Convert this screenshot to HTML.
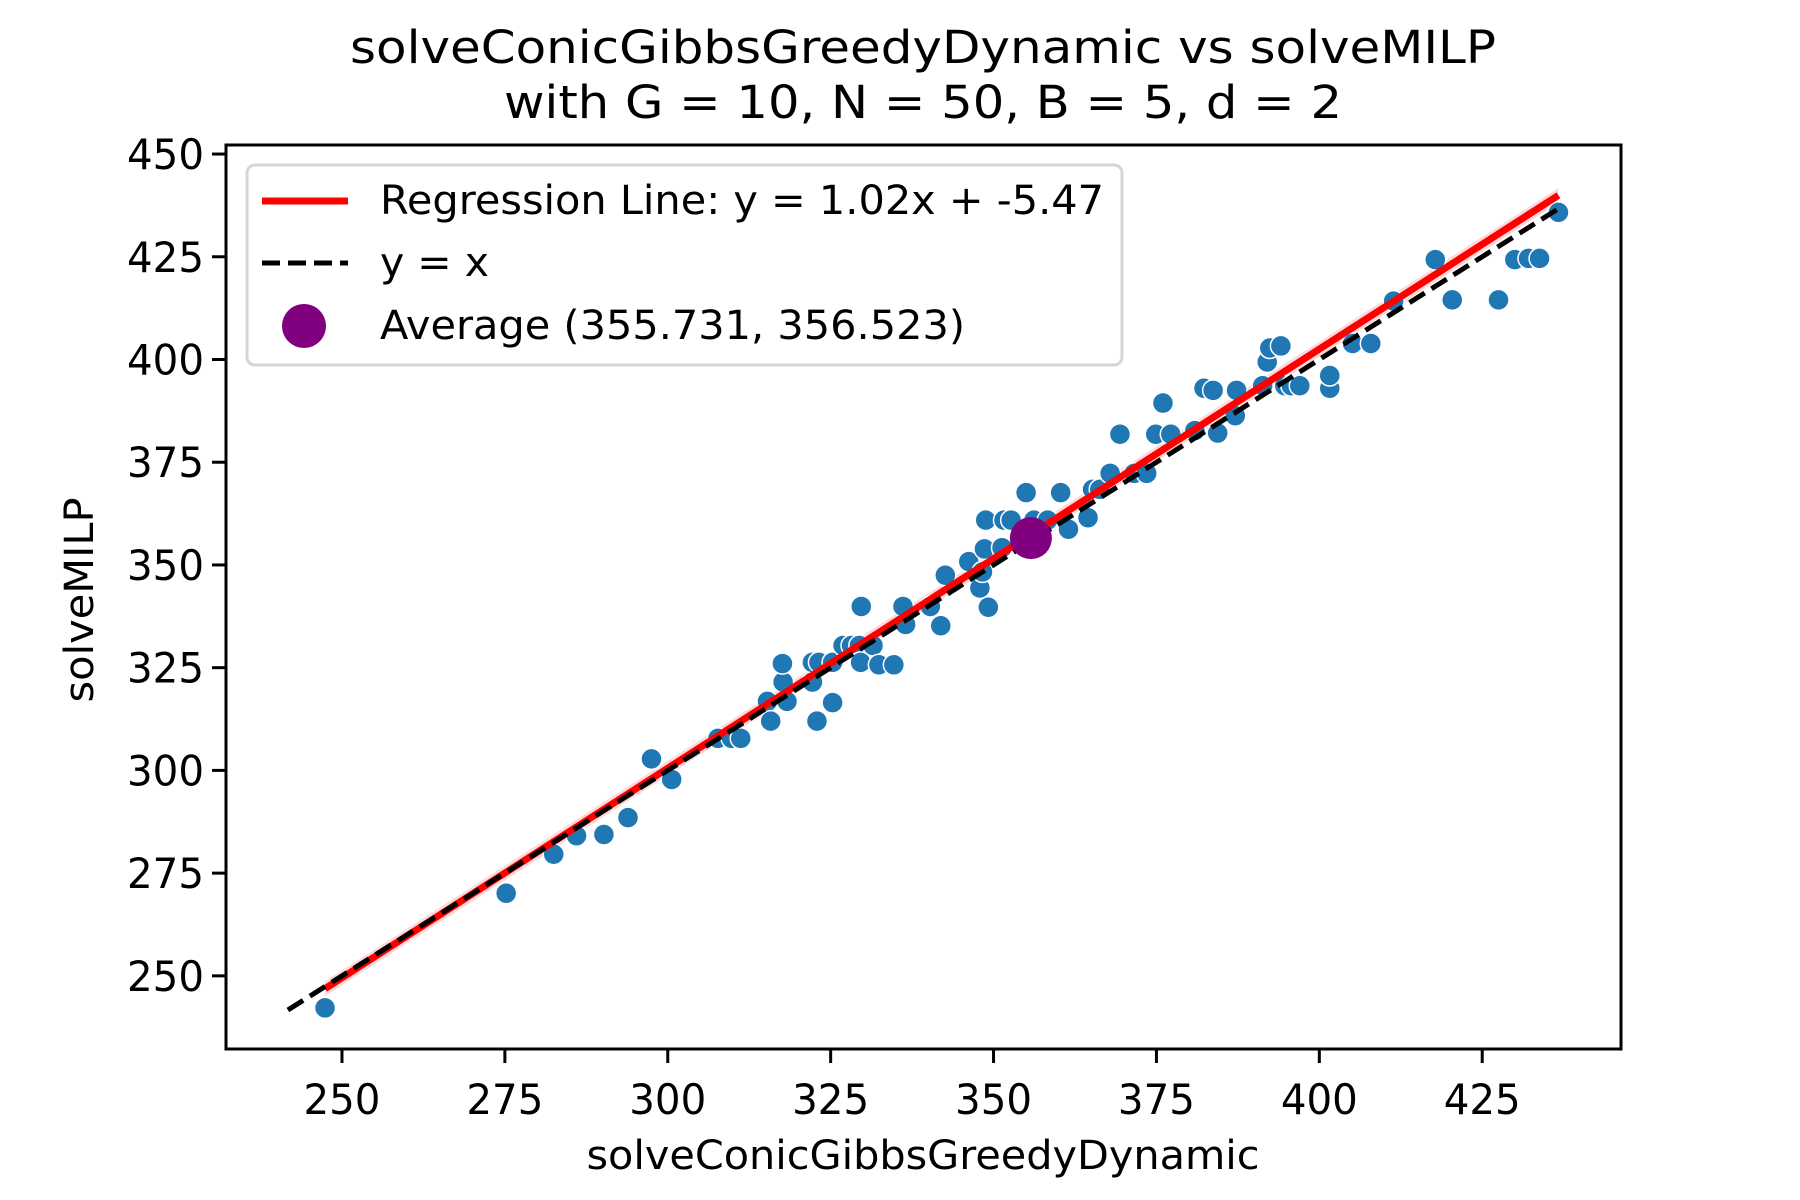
<!DOCTYPE html>
<html><head><meta charset="utf-8"><style>
html,body{margin:0;padding:0;background:#fff;}
svg{display:block;font-family:"DejaVu Sans","Liberation Sans",sans-serif;}
</style></head><body>
<svg id="chart" width="1800" height="1200" viewBox="0 0 1800 1200" xmlns="http://www.w3.org/2000/svg">
<rect width="1800" height="1200" fill="#fff"/>
<text x="923" y="63" font-size="45" text-anchor="middle" textLength="1146" lengthAdjust="spacingAndGlyphs">solveConicGibbsGreedyDynamic vs solveMILP</text>
<text x="923" y="118" font-size="45" text-anchor="middle" textLength="838" lengthAdjust="spacingAndGlyphs">with G = 10, N = 50, B = 5, d = 2</text>
<g id="plot"></g>
<text x="923" y="1169" font-size="40" text-anchor="middle" textLength="673" lengthAdjust="spacingAndGlyphs">solveConicGibbsGreedyDynamic</text>
<text x="0" y="0" font-size="40" text-anchor="middle" transform="translate(93,600) rotate(-90)" textLength="205" lengthAdjust="spacingAndGlyphs">solveMILP</text>
<g>
<rect x="247" y="165" width="875" height="200" rx="8" fill="#fff" fill-opacity="0.8" stroke="#d5d5d5" stroke-width="3"/>
<line x1="262" y1="201" x2="348" y2="201" stroke="#ff0000" stroke-width="7"/>
<text x="380" y="214" font-size="40" textLength="724" lengthAdjust="spacingAndGlyphs">Regression Line: y = 1.02x + -5.47</text>
<line x1="262" y1="263" x2="348" y2="263" stroke="#000" stroke-width="5" stroke-dasharray="18,8"/>
<text x="380" y="276" font-size="40" textLength="109" lengthAdjust="spacingAndGlyphs">y = x</text>
<circle cx="304" cy="326" r="22" fill="#800080"/>
<text x="380" y="339" font-size="40" textLength="585" lengthAdjust="spacingAndGlyphs">Average (355.731, 356.523)</text>
</g>
</svg>
<script>
const xVals=[247.4,275.2,282.5,286.0,290.2,293.9,297.5,300.6,307.7,309.8,311.2,315.3,315.8,317.7,317.6,318.3,322.2,322.2,322.9,323.2,325.3,325.3,326.9,328.2,329.4,329.6,329.7,331.5,332.4,334.7,336.1,336.5,340.3,341.9,342.6,346.2,347.9,348.3,348.6,348.8,349.2,351.3,351.6,352.7,355.0,356.2,356.7,358.3,360.3,361.5,364.5,365.2,366.3,367.9,369.4,371.6,373.5,374.9,376.0,377.2,380.9,382.3,383.7,384.4,387.1,387.3,391.3,392.0,392.4,394.1,394.7,395.7,397.0,401.6,401.6,405.1,407.9,411.4,417.8,420.4,427.5,430.0,432.1,433.8,436.7];
const yVals=[242.2,270.1,279.6,284.1,284.4,288.5,302.8,297.8,307.8,307.8,307.8,316.8,312.0,321.5,326.0,316.8,321.5,326.3,312.0,326.3,316.5,326.3,330.4,330.4,330.4,326.3,339.9,330.4,325.7,325.7,339.9,335.5,339.9,335.2,347.5,350.8,344.4,348.3,353.9,360.9,339.7,354.2,360.9,360.9,367.6,360.9,357.0,360.9,367.6,358.7,361.5,368.4,368.4,372.3,381.8,372.3,372.3,381.8,389.4,381.8,382.7,393.0,392.5,382.1,386.3,392.5,393.6,399.4,402.8,403.3,393.6,393.6,393.6,393.0,396.1,403.9,403.9,414.2,424.3,414.5,414.5,424.3,424.6,424.6,435.8];
const xTicks=[250,275,300,325,350,375,400,425];
const yTicks=[250,275,300,325,350,375,400,425,450];
const slope=[1.02];
const intercept=[-5.47];
const average=[355.731,356.523];
const identityRange=[241.7,436.5];

const NS="http://www.w3.org/2000/svg";
const L=226,R=1621,T=145,B=1049;
const X0=232.2,X1=446.3,Y0=232.2,Y1=452.2;
const sx=v=>L+(v-X0)/(X1-X0)*(R-L);
const sy=v=>B-(v-Y0)/(Y1-Y0)*(B-T);
const g=document.getElementById('plot');
function mk(tag,attrs,parent){const e=document.createElementNS(NS,tag);for(const k in attrs)e.setAttribute(k,attrs[k]);(parent||g).appendChild(e);return e;}

const xmin=Math.min(...xVals),xmax=Math.max(...xVals);
const band=mk('polygon',{points:`${sx(xmin)},${sy(slope[0]*xmin+intercept[0]+1.8)} ${sx(xmax)},${sy(slope[0]*xmax+intercept[0]+1.8)} ${sx(xmax)},${sy(slope[0]*xmax+intercept[0]-1.8)} ${sx(xmin)},${sy(slope[0]*xmin+intercept[0]-1.8)}`,fill:'#ff0000','fill-opacity':'0.15'});



xVals.forEach((xv,i)=>{
  const c=mk('circle',{cx:sx(xv),cy:sy(yVals[i]),r:10.5,fill:'#1f77b4',stroke:'#fff','stroke-width':1.5});
  
  
});

const rl=mk('line',{x1:sx(xmin),y1:sy(slope[0]*xmin+intercept[0]),x2:sx(xmax),y2:sy(slope[0]*xmax+intercept[0]),stroke:'#ff0000','stroke-width':7});



const il=mk('line',{x1:sx(identityRange[0]),y1:sy(identityRange[0]),x2:sx(identityRange[1]),y2:sy(identityRange[1]),stroke:'#000','stroke-width':5,'stroke-dasharray':'18,8'});



const av=mk('circle',{cx:sx(average[0]),cy:sy(average[1]),r:21,fill:'#800080'});



const fr=mk('rect',{x:L,y:T,width:R-L,height:B-T,fill:'none',stroke:'#000','stroke-width':3});



xTicks.forEach(t=>{
  const x=sx(t);
  const tk=mk('line',{x1:x,y1:B,x2:x,y2:B+14,stroke:'#000','stroke-width':3});
  
  
  const tx=mk('text',{x:x,y:1114,'font-size':42,'text-anchor':'middle',textLength:77,lengthAdjust:'spacingAndGlyphs'});
  tx.textContent=t;
  
  
});
yTicks.forEach(t=>{
  const y=sy(t);
  const tk=mk('line',{x1:L-14,y1:y,x2:L,y2:y,stroke:'#000','stroke-width':3});
  
  
  const tx=mk('text',{x:L-22,y:y+15,'font-size':42,'text-anchor':'end',textLength:77,lengthAdjust:'spacingAndGlyphs'});
  tx.textContent=t;
  
  
});
</script>
</body></html>
